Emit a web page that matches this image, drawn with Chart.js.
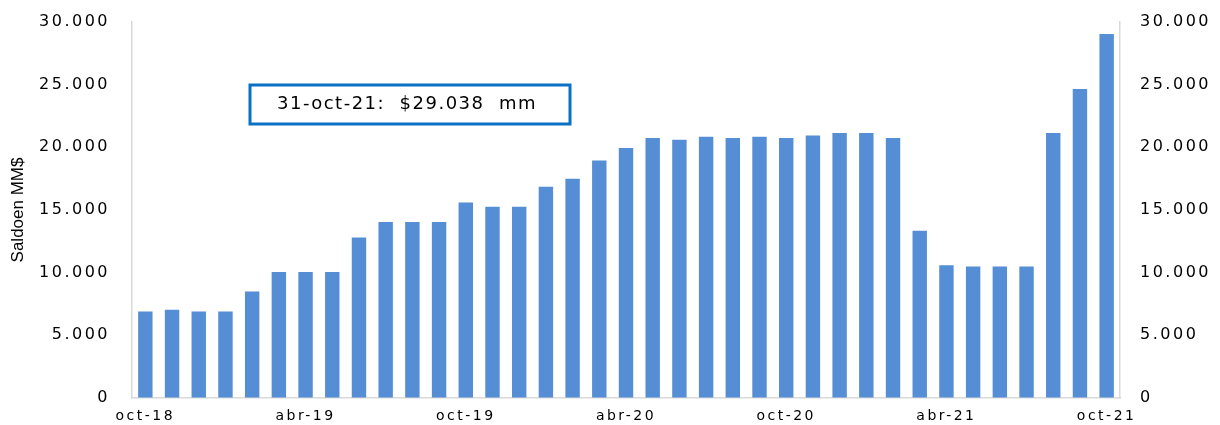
<!DOCTYPE html>
<html>
<head>
<meta charset="utf-8">
<script src="https://cdn.jsdelivr.net/npm/chart.js@4"></script>
<style>
  body { margin: 0; background: #fff; }
  #wrap { width: 1220px; height: 425px; position: relative; }
</style>
</head>
<body>
<div id="wrap"><canvas id="grafico"></canvas></div>
<script>
// meses oct-18 .. oct-21
const meses = [
  "oct-18", "nov-18", "dic-18", "ene-19", "feb-19", "mar-19", "abr-19", "may-19", "jun-19",
  "jul-19", "ago-19", "sep-19", "oct-19", "nov-19", "dic-19", "ene-20", "feb-20", "mar-20",
  "abr-20", "may-20", "jun-20", "jul-20", "ago-20", "sep-20", "oct-20", "nov-20", "dic-20",
  "ene-21", "feb-21", "mar-21", "abr-21", "may-21", "jun-21", "jul-21", "ago-21", "sep-21", "oct-21"
];

// saldo en MM$
const saldo = [
  6900, 7050, 6900, 6900, 8500, 10050, 10050, 10050, 12800, 14050,
  14050, 14050, 15600, 15250, 15250, 16850, 17500, 18950, 19950, 20750,
  20600, 20850, 20750, 20850, 20750, 20950, 21150, 21150, 20750, 13350,
  10600, 10500, 10500, 10500, 21150, 24650, 29038
];

const tituloEje = "Saldoen MM$";
const textoNota = "31-oct-21:  $29.038  mm";

const fmtMiles = v => String(v).replace(/\B(?=(\d{3})+(?!\d))/g, ".");

// espaciado de letras para imitar el texto ensanchado del original
const espaciado = {
  id: "espaciado",
  beforeDraw(chart) {
    chart.ctx.letterSpacing = "2.5px";
  }
};

// titulo del eje y recuadro con el ultimo dato
const extras = {
  id: "extras",
  afterDraw(chart) {
    const ctx = chart.ctx;
    const area = chart.chartArea;
    ctx.save();
    ctx.letterSpacing = "0px";
    ctx.fillStyle = "#000";
    ctx.font = "17px 'Liberation Sans', Arial, sans-serif";
    ctx.translate(18, (area.top + area.bottom) / 2);
    ctx.rotate(-Math.PI / 2);
    ctx.textAlign = "center";
    ctx.textBaseline = "middle";
    ctx.fillText(tituloEje, 0, 0);
    ctx.restore();

    ctx.save();
    const x = 250, y = 85, w = 320, h = 39;
    ctx.fillStyle = "#fff";
    ctx.fillRect(x, y, w, h);
    ctx.strokeStyle = "#0a70c4";
    ctx.lineWidth = 3;
    ctx.strokeRect(x, y, w, h);
    ctx.letterSpacing = "1.5px";
    ctx.fillStyle = "#000";
    ctx.font = "18px 'DejaVu Sans', sans-serif";
    ctx.textAlign = "center";
    ctx.textBaseline = "middle";
    ctx.fillText(textoNota, x + w / 2 - 3, y + h / 2);
    ctx.restore();
  }
};

// marcas invisibles: separan las etiquetas del eje sin sumar relleno arriba/abajo
const gridOculta = len => ({
  display: true,
  drawOnChartArea: false,
  drawTicks: true,
  tickLength: len,
  color: "rgba(0,0,0,0)"
});

const ctx = document.getElementById("grafico").getContext("2d");
new Chart(ctx, {
  type: "bar",
  data: {
    labels: meses,
    datasets: [{
      label: "Saldo",
      data: saldo,
      backgroundColor: "#558ed5",
      borderWidth: 0,
      categoryPercentage: 1,
      barPercentage: 0.54
    }]
  },
  options: {
    responsive: true,
    maintainAspectRatio: false,
    animation: false,
    devicePixelRatio: 1,
    layout: { padding: { top: 22, right: 0, bottom: 0, left: 0 } },
    plugins: {
      legend: { display: false },
      tooltip: { enabled: false }
    },
    scales: {
      x: {
        grid: { display: false, drawTicks: false },
        border: { display: true, color: "#d9d9d9", width: 1.5 },
        ticks: {
          autoSkip: false,
          maxRotation: 0,
          padding: 10,
          color: "#000",
          font: { family: "'DejaVu Sans', sans-serif", size: 14 },
          callback: (v, i) => (i % 6 === 0 ? meses[i] : "")
        },
        afterFit: s => { s.height = 27; }
      },
      y: {
        position: "left",
        min: 0,
        max: 30000,
        grid: gridOculta(22),
        border: { display: true, color: "#d9d9d9", width: 1.5 },
        ticks: {
          stepSize: 5000,
          padding: 0,
          color: "#000",
          font: { family: "'DejaVu Sans', sans-serif", size: 16 },
          callback: v => fmtMiles(v)
        },
        afterFit: s => { s.width = 132; }
      },
      y1: {
        position: "right",
        min: 0,
        max: 30000,
        grid: gridOculta(20),
        border: { display: true, color: "#d9d9d9", width: 1.5 },
        ticks: {
          stepSize: 5000,
          padding: 0,
          color: "#000",
          font: { family: "'DejaVu Sans', sans-serif", size: 16 },
          callback: v => fmtMiles(v)
        },
        afterFit: s => { s.width = 100; }
      }
    }
  },
  plugins: [espaciado, extras]
});
</script>
</body>
</html>
